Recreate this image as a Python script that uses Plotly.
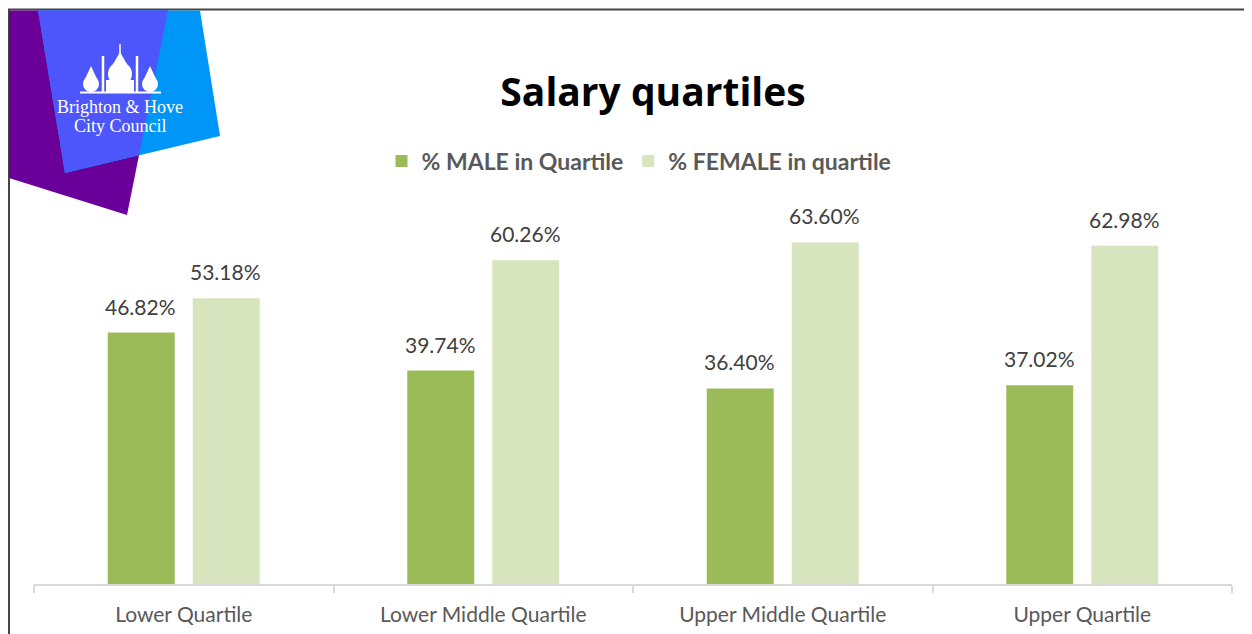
import plotly.graph_objects as go

categories = ["Lower Quartile", "Lower Middle Quartile", "Upper Middle Quartile", "Upper Quartile"]
male_pct = [46.82, 39.74, 36.40, 37.02]
female_pct = [53.18, 60.26, 63.60, 62.98]
series_names = ["% MALE in Quartile", "% FEMALE in quartile"]

MALE_COLOR = "#9BBB59"
FEMALE_COLOR = "#D7E4BD"
TEXT_DARK = "#404040"
TEXT_GREY = "#595959"

# page has an 8px body margin: the figure is drawn from (8, 8)
OX, OY = 8, 8
W, H = 1252 - OX, 634 - OY
L = 34 - OX
R = W - (1232 - OX)
T = 208 - OY
B = H - (584 - OY)
PW, PH = W - L - R, H - T - B
YMAX = 70


def px(x):
    """reference-screen x -> paper x"""
    return (x - OX - L) / PW


def py(y):
    """reference-screen y -> paper y"""
    return (H - B - (y - OY)) / PH


fig = go.Figure()
fig.add_trace(go.Bar(name=series_names[0], x=categories, y=male_pct,
                     marker=dict(color=MALE_COLOR, line=dict(width=0))))
fig.add_trace(go.Bar(name=series_names[1], x=categories, y=female_pct,
                     marker=dict(color=FEMALE_COLOR, line=dict(width=0))))

annotations = []
for vals, shift in ((male_pct, -43), (female_pct, 42)):
    for c, v in zip(categories, vals):
        annotations.append(dict(x=c, y=v, xref="x", yref="y", text=f"{v:.2f}%",
                                showarrow=False, xanchor="center", yanchor="bottom",
                                xshift=shift, yshift=12,
                                font=dict(family="Lato", size=21, color=TEXT_DARK)))

# logo text
for txt, yy in (("Brighton &amp; Hove", 107), ("City Council", 126)):
    annotations.append(dict(x=px(120), y=py(yy), xref="paper", yref="paper",
                            text=txt, showarrow=False, xanchor="center", yanchor="middle",
                            font=dict(family="Liberation Serif", size=18, color="white")))


def poly(points, color):
    path = "M " + " L ".join(f"{px(x)},{py(y)}" for x, y in points) + " Z"
    return dict(type="path", xref="paper", yref="paper", path=path,
                fillcolor=color, line=dict(width=0), layer="above")


def circle(cx, cy, r, color="white"):
    return dict(type="circle", xref="paper", yref="paper",
                x0=px(cx - r), x1=px(cx + r), y0=py(cy + r), y1=py(cy - r),
                fillcolor=color, line=dict(width=0), layer="above")


def line(x0, y0, x1, y1, color, width):
    return dict(type="line", xref="paper", yref="paper",
                x0=px(x0), y0=py(y0), x1=px(x1), y1=py(y1),
                line=dict(color=color, width=width), layer="above")


shapes = [
    # border
    line(8, 9.5, 1252, 9.5, "#454545", 2),
    line(9, 9, 9, 634, "#454545", 2),
    # logo
    poly([(9, 10.5), (168, 10.5), (127, 215), (9, 178)], "#6A0099"),
    poly([(38, 10.5), (200, 10.5), (220, 136), (65, 173)], "#0096F7"),
    poly([(38, 10.5), (168, 10.5), (139, 155), (65, 173)], "#4C56FA"),
    # pavilion
    circle(120, 74, 12),
    poly([(112, 66), (120, 52), (128, 66)], "white"),
    line(120, 44, 120, 60, "white", 1.5),
    circle(91, 84, 8),
    poly([(85, 79), (91, 66), (97, 79)], "white"),
    circle(150, 84, 8),
    poly([(144, 79), (150, 66), (156, 79)], "white"),
    line(103, 56, 103, 92, "white", 2.5),
    line(137, 56, 137, 92, "white", 2.5),
    line(80, 92.5, 161, 92.5, "white", 2),
    poly([(106, 80), (134, 80), (134, 92), (106, 92)], "white"),
]

fig.update_layout(
    width=W, height=H,
    margin=dict(l=L, r=R, t=T, b=B, autoexpand=False),
    paper_bgcolor="white", plot_bgcolor="white",
    barmode="group", bargap=0.4324, bargroupgap=0.212,
    title=dict(text="<b>Salary quartiles</b>", x=(653 - OX) / W, xanchor="center",
               y=1 - (92 - OY) / H, yanchor="middle", xref="container", yref="container",
               font=dict(family="Open Sans", size=39, color="black")),
    legend=dict(orientation="h", x=px(639), xanchor="center", y=py(161), yanchor="middle",
                font=dict(family="Lato", size=23, color=TEXT_GREY, weight="bold"),
                bgcolor="rgba(0,0,0,0)"),
    xaxis=dict(showline=True, linecolor="#D9D9D9", linewidth=1.5, automargin=False,
               ticks="outside", tickson="boundaries", ticklen=7, tickcolor="#D9D9D9",
               tickwidth=1.5, showgrid=False, ticklabelstandoff=11,
               tickfont=dict(family="Lato", size=21, color=TEXT_GREY)),
    yaxis=dict(range=[0, YMAX], visible=False, showgrid=False, zeroline=False,
               automargin=False),
    annotations=annotations,
    shapes=shapes,
    font=dict(family="Lato"),
)

fig.write_html("out.html")
